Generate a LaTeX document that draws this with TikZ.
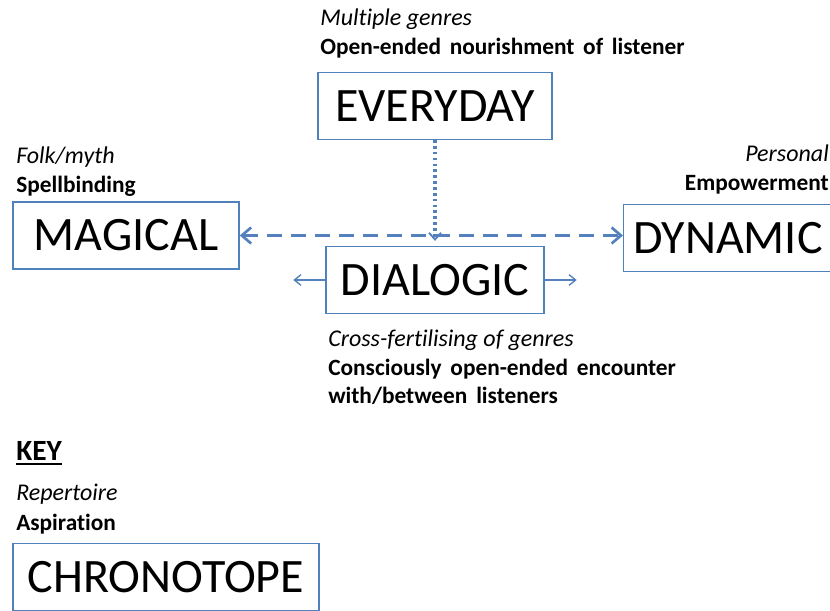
\documentclass[tikz,border=0pt]{standalone}
\usepackage{fontspec}
\setmainfont[Ligatures=NoCommon]{Carlito}
\usetikzlibrary{arrows.meta}

\definecolor{boxblue}{RGB}{79,129,189}
\definecolor{linkblue}{RGB}{84,128,190}
\newcommand\widewords{\spaceskip 6.6pt\relax}

\tikzset{
  chrono/.style={draw=boxblue, line width=1.1pt, minimum height=50pt,
    inner sep=0pt, font=\fontsize{36}{40}\selectfont},
  repert/.style={anchor=base west, inner sep=0pt,
    font=\fontsize{18}{21}\selectfont\itshape},
  aspir/.style={anchor=base west, inner sep=0pt,
    font=\fontsize{17.5}{21}\selectfont\bfseries\widewords},
  dashlink/.style={draw=linkblue, line width=2.3pt, dash pattern=on 11pt off 7pt,
    {Straight Barb[length=7pt,width=12pt,line width=2pt]}-{Straight Barb[length=7pt,width=12pt,line width=2pt]}},
  dotlink/.style={draw=linkblue, line width=2.3pt, dash pattern=on 2pt off 2.4pt,
    -{Straight Barb[length=5pt,width=9pt,line width=1.4pt]}},
  thinlink/.style={draw=linkblue, line width=1pt,
    -{Straight Barb[length=5pt,width=8pt]}}
}

\begin{document}
\begin{tikzpicture}[x=0.75pt, y=-0.75pt]
    \useasboundingbox (0,0) rectangle (830,610);
    \clip (0,0) rectangle (830,610);

    % chronotopes
    \foreach \n/\t/\x/\y/\w in {
     evd/EVERYDAY/435/106/175.5, mag/MAGICAL/126/235.5/169.5,
     dlg/DIALOGIC/435/280/163.5, key/CHRONOTOPE/166/577/229.5
     } {
      \node[chrono, minimum width=\w pt] (\n) at (\x,\y) {\t};
     }
    \node[chrono, anchor=west, inner xsep=7pt, text width=165pt, align=left]
      (dyn) at (623,238) {DYNAMIC};

    % repertoire and aspiration
    \node[repert] (evdR) at (320,26) {Multiple genres};
    \node[aspir] (evdA) at (320,55) {Open-ended nourishment of listener};
    \node[repert] (magR) at (16,163) {Folk/myth};
    \node[aspir] (magA) at (16,192) {Spellbinding};
    \node[repert, anchor=base east] (dynR) at (829,161) {Personal};
    \node[aspir, anchor=base east] (dynA) at (829,190) {Empowerment};
    \node[repert] (dlgR) at (328,346) {Cross-fertilising of genres};
    \node[aspir] (dlgA) at (328,375) {Consciously open-ended encounter};
    \node[aspir] (dlgB) at (328,403) {with/between listeners};

    % key
    \node[aspir, font=\fontsize{22}{26}\selectfont\bfseries] (keyT) at (16,460) {KEY};
    \draw[line width=1.3pt] ([yshift=-3.2pt]keyT.base west) -- ([yshift=-3.2pt]keyT.base east);
    \node[repert] (keyR) at (16,500) {Repertoire};
    \node[aspir] (keyA) at (16,530) {Aspiration};

    % links
    \draw[dashlink] (mag.east) -- (mag.east -| dyn.west);
    \coordinate (mid) at (evd.south |- mag.east);
    \draw[dotlink] (evd.south) -- ([yshift=-4pt]mid);
    \coordinate (dlgW) at ([xshift=-24pt]dlg.west);
    \coordinate (dlgE) at ([xshift=24pt]dlg.east);
    \draw[thinlink] (dlg.west) -- (dlgW);
    \draw[thinlink] (dlg.east) -- (dlgE);
   \end{tikzpicture}
\end{document}
